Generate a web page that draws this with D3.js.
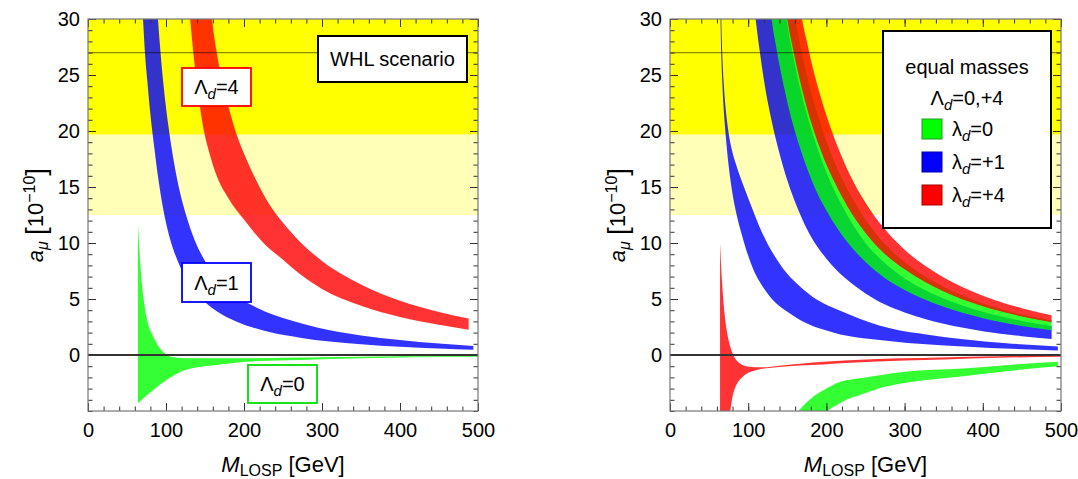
<!DOCTYPE html>
<html><head><meta charset="utf-8">
<script src="https://cdn.jsdelivr.net/npm/d3@7"></script>
<style>
body{margin:0;background:#fff;}
svg{display:block;font-family:"Liberation Sans",Arial,Helvetica,sans-serif;}
</style></head>
<body><svg id="c" width="1078" height="479"></svg>
<script>
// ---------- data ----------
const xMajorTicks = [0,100,200,300,400,500];
const yMajorTicks = [0,5,10,15,20,25,30];
const xMinorTicks = d3.range(0,501,20);
const yMinorTicks = d3.range(-5,31,1);
const bandDark = [19.7, 34.3];
const bandLight = [12.5, 41.5];
const centralValue = 27.0;

// Left panel: WHL scenario, [M_LOSP, a_mu]
const whlRed4Lo = [[127,33],[131,30],[135,27],[140,24],[147,20.6],[155,18.2],[165,16],[180,14],[201,12.0],[225,10.0],[250,8.5],[272,7.2],[300,5.9],[350,4.4],[400,3.4],[450,2.7],[488,2.25]];
const whlRed4Hi = [[155,33],[159,30],[165,27],[172,24.5],[180,22.2],[190,19.8],[200,18],[215,15.7],[233,13.4],[250,11.8],[272,10.1],[300,8.4],[350,6.3],[400,4.85],[450,3.85],[488,3.25]];
const whlBlue1Lo = [[68,33],[70.5,30],[73,27],[76,24.5],[80,21.5],[85,18.5],[90,15.8],[96,13.2],[105,10.4],[115,8.4],[128,6.6],[145,5.1],[165,3.9],[190,3.0],[230,2.1],[272,1.55],[310,1.2],[350,0.96],[400,0.73],[450,0.57],[494,0.46]];
const whlBlue1Hi = [[87,33],[89.7,30],[93,27],[97,24],[103,20.5],[110,17.3],[118,14.5],[127,12.2],[137,10.2],[150,8.4],[170,6.6],[195,5.1],[220,4.1],[250,3.3],[280,2.7],[310,2.2],[350,1.75],[400,1.35],[450,1.03],[494,0.8]];
const whlGreen0Lo = [[64,-4.3],[79,-3.4],[101,-2.2],[127,-1.3],[165,-0.9],[204,-0.6],[272,-0.45],[350,-0.3],[420,-0.2],[500,-0.15]];
const whlGreen0Hi = [[64,11.8],[65,10.5],[67,8.2],[71,5.2],[75,3.4],[84,1.6],[96,0.3],[109,-0.2],[127,-0.3],[200,-0.3],[300,-0.2],[400,-0.12],[500,-0.08]];

// Right panel: equal masses, Lambda_d = +4
const eqBlue4Lo = [[105,33],[109.5,30],[115,27.0],[120,24.6],[130,20.9],[140,18.0],[150,15.6],[165,12.8],[180,10.6],[200,8.6],[225,6.8],[250,5.5],[275,4.5],[300,3.8],[350,2.78],[400,2.12],[450,1.68],[488,1.43]];
const eqBlue4Hi = [[144,33],[149,30],[155,27.6],[160,25.8],[170,22.8],[180,20.3],[190,18.2],[200,16.3],[215,14.0],[230,12.1],[250,10.0],[275,8.2],[300,6.85],[350,5.05],[400,3.86],[450,3.04],[488,2.6]];
const eqGreen4Lo = [[126,33],[130,30],[135,27.8],[140,25.9],[150,22.6],[160,19.9],[170,17.7],[180,15.8],[190,14.2],[200,12.9],[215,11.2],[230,9.8],[250,8.3],[275,6.85],[300,5.8],[350,4.3],[400,3.29],[450,2.6],[488,2.22]];
const eqGreen4Hi = [[155,33],[160,30],[165,28.2],[170,26.5],[180,23.6],[190,21.2],[200,19.1],[215,16.5],[230,14.4],[250,12.1],[275,9.9],[300,8.3],[350,6.1],[400,4.63],[450,3.63],[488,3.08]];
const eqRed4Lo = [[145,33],[150,30],[155,28.1],[160,26.4],[170,23.4],[180,20.9],[190,18.8],[200,17.0],[215,14.8],[230,12.9],[250,10.9],[275,9.0],[300,7.65],[350,5.67],[400,4.35],[450,3.44],[488,2.93]];
const eqRed4Hi = [[164,33],[169,30],[175,28.0],[180,26.4],[190,23.7],[200,21.4],[215,18.5],[230,16.1],[250,13.6],[275,11.2],[300,9.4],[350,6.93],[400,5.3],[450,4.18],[488,3.55]];
// Right panel: Lambda_d = 0
const eqBlue0Lo = [[64,33],[64.6,30],[65.5,27],[66.8,24.5],[68.6,22],[71,19.8],[74.5,17.2],[79,14.8],[85,12.6],[92,10.7],[104.5,8.0],[123.6,5.6],[157.7,3.5],[208.8,2.0],[280,1.25],[375,0.76],[496,0.4]];
const eqBlue0Hi = [[65,33],[65.6,30],[66.8,27],[68.5,24.5],[70.8,22.3],[74,20.3],[78.9,18.4],[85,16.9],[92,15.5],[102.3,13.6],[117.2,11.0],[140.7,8.1],[174.8,5.6],[230,3.6],[280,2.4],[330,1.8],[375,1.4],[430,1.05],[496,0.76]];
const eqGreen0Lo = [[198,-5.3],[202,-5],[217,-4.3],[250,-3.4],[268.5,-2.95],[300,-2.5],[375,-1.9],[450,-1.3],[496,-1.0]];
const eqGreen0Hi = [[160,-5.3],[164,-5],[180,-3.9],[200,-3.0],[217,-2.4],[250,-2.0],[268.5,-1.8],[300,-1.5],[375,-1.2],[450,-0.8],[496,-0.6]];
const eqRed0Lo = [[64,-7],[77,-5],[81,-3.4],[93.7,-1.9],[110.8,-1.34],[136,-1.1],[196,-0.85],[230,-0.7],[300,-0.5],[350,-0.4],[420,-0.25],[500,-0.15]];
const eqRed0Hi = [[64,10],[65,8.5],[66.5,6.6],[68,5.1],[70,3.5],[72.5,2.2],[76,1.0],[81,0],[89.5,-0.75],[102,-1.05],[115,-1.1],[140,-0.95],[170,-0.75],[196,-0.6],[250,-0.4],[345,-0.22],[420,-0.12],[500,-0.06]];

const legendItems = [["0","#00ff00","#229922"],["+1","#0000ff","#0000aa"],["+4","#ff0000","#aa0000"]];

// ---------- drawing ----------
const svg = d3.select("#c");
const FONT = 20;
const TFONT = 22;
const colors = {red:"#ff0000", blue:"#0000ff", green:"#00ff00"};

function panel(id, x0, x1, bands){
  const x = d3.scaleLinear().domain([0,500]).range([x0,x1]);
  const y = d3.scaleLinear().domain([-5,30]).range([411,19]);
  const g = svg.append("g");
  g.append("clipPath").attr("id","clip"+id).append("rect")
    .attr("x",x0).attr("y",y(30)).attr("width",x1-x0).attr("height",y(-5)-y(30));
  const pg = g.append("g").attr("clip-path",`url(#clip${id})`);
  pg.append("rect").attr("x",x0).attr("width",x1-x0)
    .attr("y",y(bandLight[1])).attr("height",y(bandLight[0])-y(bandLight[1])).attr("fill","#ffffb8");
  pg.append("rect").attr("x",x0).attr("width",x1-x0)
    .attr("y",y(bandDark[1])).attr("height",y(bandDark[0])-y(bandDark[1])).attr("fill","#ffff00");
  const line = d3.line().x(d=>x(d[0])).y(d=>y(d[1])).curve(d3.curveMonotoneX);
  bands.forEach(b=>{
    const p1 = line(b.lo);
    const p2 = line(b.hi.slice().reverse());
    const d = p1 + "L" + p2.replace(/^M/,"") + "Z";
    pg.append("path").attr("d",d).attr("fill",b.color).attr("fill-opacity",0.8).attr("stroke","none");
  });
  pg.append("line").attr("x1",x0).attr("x2",x1).attr("y1",y(centralValue)).attr("y2",y(centralValue))
    .attr("stroke","#000").attr("stroke-opacity",0.45).attr("stroke-width",1.3);
  pg.append("line").attr("x1",x0).attr("x2",x1).attr("y1",y(0)).attr("y2",y(0))
    .attr("stroke","#333").attr("stroke-width",2);

  const styleAxis = sel=>{ sel.select(".domain").remove(); sel.selectAll("line").attr("stroke","#333");
    sel.selectAll("text").attr("font-size",FONT).attr("font-family","'Liberation Sans',Arial,sans-serif").attr("fill","#000"); };
  g.append("g").attr("transform",`translate(0,${y(-5)})`)
    .call(d3.axisBottom(x).tickValues(xMinorTicks).tickSizeInner(-4.5).tickSizeOuter(0).tickFormat("")).call(styleAxis);
  g.append("g").attr("transform",`translate(0,${y(-5)})`)
    .call(d3.axisBottom(x).tickValues(xMajorTicks).tickSizeInner(-8).tickSizeOuter(0).tickPadding(12).tickFormat(d3.format("d"))).call(styleAxis);
  g.append("g").attr("transform",`translate(0,${y(30)})`)
    .call(d3.axisTop(x).tickValues(xMinorTicks).tickSizeInner(-4.5).tickSizeOuter(0).tickFormat("")).call(styleAxis);
  g.append("g").attr("transform",`translate(0,${y(30)})`)
    .call(d3.axisTop(x).tickValues(xMajorTicks).tickSizeInner(-8).tickSizeOuter(0).tickFormat("")).call(styleAxis);
  g.append("g").attr("transform",`translate(${x0},0)`)
    .call(d3.axisLeft(y).tickValues(yMinorTicks).tickSizeInner(-4.5).tickSizeOuter(0).tickFormat("")).call(styleAxis);
  g.append("g").attr("transform",`translate(${x0},0)`)
    .call(d3.axisLeft(y).tickValues(yMajorTicks).tickSizeInner(-8).tickSizeOuter(0).tickPadding(8).tickFormat(d3.format("d"))).call(styleAxis);
  g.append("g").attr("transform",`translate(${x1},0)`)
    .call(d3.axisRight(y).tickValues(yMinorTicks).tickSizeInner(-4.5).tickSizeOuter(0).tickFormat("")).call(styleAxis);
  g.append("g").attr("transform",`translate(${x1},0)`)
    .call(d3.axisRight(y).tickValues(yMajorTicks).tickSizeInner(-8).tickSizeOuter(0).tickFormat("")).call(styleAxis);
  g.append("rect").attr("x",x0).attr("y",y(30)).attr("width",x1-x0).attr("height",y(-5)-y(30))
    .attr("fill","none").attr("stroke","#777").attr("stroke-width",1.2);

  const cx = (x0+x1)/2, cy = (y(30)+y(-5))/2;
  const yt = g.append("text").attr("transform",`translate(${x0-45},${cy}) rotate(-90)`)
    .attr("text-anchor","middle").attr("font-size",TFONT);
  yt.append("tspan").attr("font-style","italic").text("a");
  yt.append("tspan").attr("font-style","italic").attr("font-size",16).attr("dy",5).text("μ");
  yt.append("tspan").attr("dy",-5).text(" ");
  yt.append("tspan").attr("font-size",28).attr("dy",2).text("[");
  yt.append("tspan").attr("dy",-2).text("10");
  yt.append("tspan").attr("font-size",16).attr("dy",-8).text("−10");
  yt.append("tspan").attr("font-size",28).attr("dy",10).text("]");
  const xt = g.append("text").attr("x",cx).attr("y",472).attr("text-anchor","middle").attr("font-size",TFONT);
  xt.append("tspan").attr("font-style","italic").text("M");
  xt.append("tspan").attr("font-size",16).attr("dy",4).text("LOSP");
  xt.append("tspan").attr("dy",-4).text(" [GeV]");
  return {x,y,g};
}

function lamLabel(g, cx, cy, w, h, color, val){
  g.append("rect").attr("x",cx-w/2).attr("y",cy-h/2).attr("width",w).attr("height",h)
    .attr("fill","#fff").attr("stroke",color).attr("stroke-width",1.8);
  const t = g.append("text").attr("x",cx).attr("y",cy+7).attr("text-anchor","middle").attr("font-size",FONT);
  t.append("tspan").text("Λ");
  t.append("tspan").attr("font-style","italic").attr("font-size",15).attr("dy",5).text("d");
  t.append("tspan").attr("dy",-5).text("="+val);
}

const L = panel("L", 88, 478, [
  {lo:whlRed4Lo, hi:whlRed4Hi, color:colors.red},
  {lo:whlBlue1Lo, hi:whlBlue1Hi, color:colors.blue},
  {lo:whlGreen0Lo, hi:whlGreen0Hi, color:colors.green}
]);
lamLabel(L.g, 216.5, 87, 69, 38, "#ff0000", "4");
lamLabel(L.g, 216.5, 282.5, 69, 39, "#0000ff", "1");
lamLabel(L.g, 282.5, 384, 69, 38, "#00dd00", "0");
L.g.append("rect").attr("x",318).attr("y",36).attr("width",149).attr("height",46)
  .attr("fill","#fff").attr("stroke","#000").attr("stroke-width",2);
L.g.append("text").attr("x",392.5).attr("y",66).attr("text-anchor","middle").attr("font-size",FONT).text("WHL scenario");

const R = panel("R", 670, 1061, [
  {lo:eqBlue4Lo, hi:eqBlue4Hi, color:colors.blue},
  {lo:eqBlue0Lo, hi:eqBlue0Hi, color:colors.blue},
  {lo:eqGreen4Lo, hi:eqGreen4Hi, color:colors.green},
  {lo:eqGreen0Lo, hi:eqGreen0Hi, color:colors.green},
  {lo:eqRed4Lo, hi:eqRed4Hi, color:colors.red},
  {lo:eqRed0Lo, hi:eqRed0Hi, color:colors.red}
]);
const lg = R.g.append("g");
lg.append("rect").attr("x",883).attr("y",31).attr("width",168).attr("height",197)
  .attr("fill","#fff").attr("stroke","#000").attr("stroke-width",2);
lg.append("text").attr("x",967).attr("y",74).attr("text-anchor","middle").attr("font-size",FONT).text("equal masses");
const lt = lg.append("text").attr("x",967).attr("y",105).attr("text-anchor","middle").attr("font-size",FONT);
lt.append("tspan").text("Λ");
lt.append("tspan").attr("font-style","italic").attr("font-size",15).attr("dy",5).text("d");
lt.append("tspan").attr("dy",-5).text("=0,+4");
legendItems.forEach((it,i)=>{
  const yy = 119 + i*33;
  lg.append("rect").attr("x",922).attr("y",yy).attr("width",20).attr("height",20)
    .attr("fill",it[1]).attr("stroke",it[2]).attr("stroke-width",1);
  const t = lg.append("text").attr("x",952).attr("y",yy+17).attr("font-size",FONT);
  t.append("tspan").text("λ");
  t.append("tspan").attr("font-style","italic").attr("font-size",15).attr("dy",5).text("d");
  t.append("tspan").attr("dy",-5).text("="+it[0]);
});
</script></body></html>
